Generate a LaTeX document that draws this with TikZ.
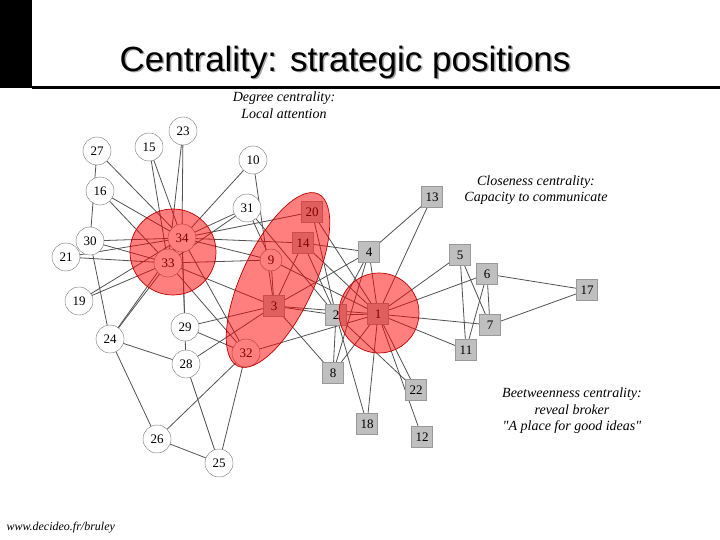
\documentclass[tikz,border=0pt]{standalone}
\usepackage{fontspec}
\setmainfont{Liberation Serif}
\newfontfamily\titlefont{Liberation Sans}
\usetikzlibrary{backgrounds}
\begin{document}
\begin{tikzpicture}[x=1pt,y=-1pt,
  actor/.style={circle,draw=black!55,fill=white,minimum size=28pt,inner sep=0pt,font=\fontsize{13}{13}\selectfont},
  firm/.style={rectangle,draw=black!40,fill=black!25,minimum size=21pt,inner sep=0pt,font=\fontsize{13}{13}\selectfont},
  tie/.style={draw=black!68,line width=0.8pt},
  hot/.style={fill=red,fill opacity=0.5,draw=red!75!black,line width=0.7pt},
  note/.style={font=\fontsize{14}{16.5}\selectfont\itshape,align=center}]
  \useasboundingbox (0,0) rectangle (720,540);
  % header
  \fill (0,0) rectangle (32,88);
  \fill (32,86) rectangle (720,89);
  \node[text=black!35,font=\titlefont\fontsize{35}{35}\selectfont] at (346.5,63.5) {Centrality: strategic positions};
  \node (title) [font=\titlefont\fontsize{35}{35}\selectfont] at (345,62) {Centrality: strategic positions};
  % actors (circles)
  \node[actor] (n23) at (183,131) {23};
  \node[actor] (n27) at (97,151) {27};
  \node[actor] (n15) at (149,147) {15};
  \node[actor] (n10) at (253,160) {10};
  \node[actor] (n16) at (100,191) {16};
  \node[actor] (n31) at (247,208) {31};
  \node[actor] (n30) at (90,241) {30};
  \node[actor] (n21) at (66,257) {21};
  \node[actor] (n34) at (182,238) {34};
  \node[actor] (n33) at (168,263) {33};
  \node[actor] (n19) at (79,301) {19};
  \node[actor,minimum size=22pt] (n9) at (271,260) {9};
  \node[actor] (n29) at (185,327) {29};
  \node[actor] (n24) at (110,339) {24};
  \node[actor] (n28) at (186,364) {28};
  \node[actor] (n32) at (246,353) {32};
  \node[actor] (n26) at (157,439) {26};
  \node[actor] (n25) at (219,463) {25};
  % firms (squares)
  \node[firm] (n20) at (312,212) {20};
  \node[firm] (n14) at (303,243) {14};
  \node[firm] (n13) at (432,197) {13};
  \node[firm] (n4) at (369,252) {4};
  \node[firm] (n5) at (460,255) {5};
  \node[firm] (n6) at (487,274) {6};
  \node[firm] (n17) at (587,290) {17};
  \node[firm] (n3) at (274,306) {3};
  \node[firm] (n2) at (336,315) {2};
  \node[firm] (n1) at (378,314) {1};
  \node[firm] (n7) at (490,325) {7};
  \node[firm] (n11) at (466,350) {11};
  \node[firm] (n8) at (333,373) {8};
  \node[firm] (n22) at (416,390) {22};
  \node[firm] (n18) at (367,424) {18};
  \node[firm] (n12) at (422,437) {12};
  % ties, behind the nodes
  \begin{pgfonlayer}{background}
  \foreach \a/\b in {1/2,1/3,1/4,1/5,1/6,1/7,1/8,1/9,1/11,1/12,1/13,1/14,1/18,1/20,1/22,1/32,
    2/3,2/4,2/8,2/14,2/18,2/20,2/22,2/31,3/4,3/8,3/9,3/10,3/14,3/28,3/29,3/33,
    4/8,4/13,4/14,5/7,5/11,6/7,6/11,6/17,7/17,9/31,9/33,9/34,10/34,14/34,
    15/33,15/34,16/33,16/34,19/33,19/34,20/34,21/33,21/34,23/33,23/34,
    24/26,24/28,24/30,24/33,24/34,25/26,25/28,25/32,26/32,27/30,27/34,28/34,
    29/32,29/34,30/33,30/34,31/33,31/34,32/33,32/34,33/34}
    {\draw[tie] (n\a.center) -- (n\b.center);}
  \end{pgfonlayer}
  % highlighted regions
  \draw[hot] (173,252) circle [radius=43];
  \draw[hot] (379,313) circle [radius=40];
  \draw[hot,rotate around={65:(278,280)}] (278,280) ellipse [x radius=95,y radius=36];
  % notes
  \node[note] (degree) at (284,105) {Degree centrality:\\Local attention};
  \node[note] (closeness) at (536,190) {Closeness centrality:\\Capacity to communicate};
  \node[note] (betweenness) at (572,411) {Beetweenness centrality:\\reveal broker\\\textquotedbl A place for good ideas\textquotedbl};
  \node[anchor=west,font=\fontsize{12}{12}\selectfont\itshape] (url) at (3,528) {www.decideo.fr/bruley};
\end{tikzpicture}
\end{document}
